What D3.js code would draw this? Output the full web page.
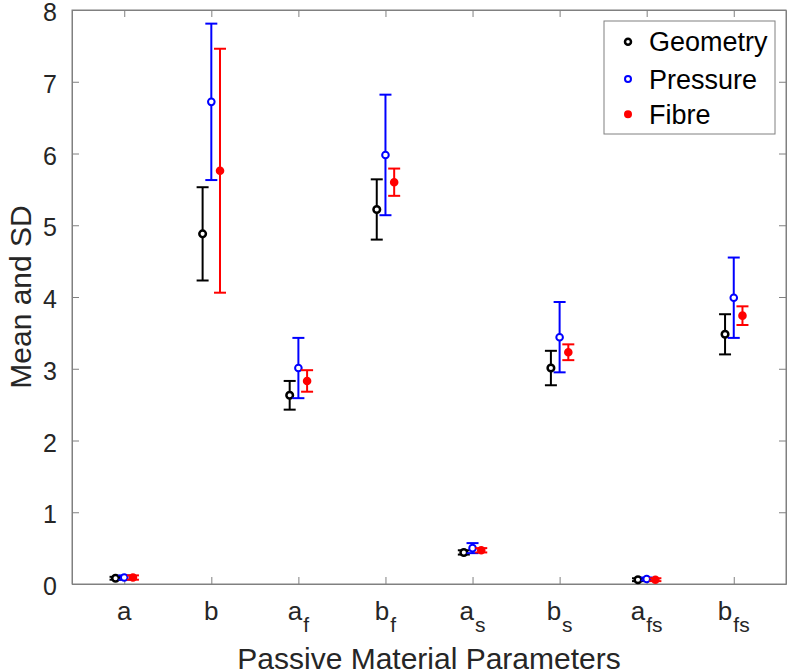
<!DOCTYPE html>
<html><head><meta charset="utf-8">
<script src="https://cdn.jsdelivr.net/npm/d3@7"></script>
<style>body{margin:0;background:#fff;} text{font-family:"Liberation Sans",Arial,sans-serif;}</style>
</head><body><svg id="c" width="788" height="671"></svg>
<script>
const categories = [["a",""],["b",""],["a","f"],["b","f"],["a","s"],["b","s"],["a","fs"],["b","fs"]];
const seriesNames = ["Geometry","Pressure","Fibre"];
const geometryMean = [0.08, 4.88, 2.63, 5.22, 0.44, 3.01, 0.06, 3.48];
const geometrySD   = [0.02, 0.65, 0.20, 0.42, 0.03, 0.24, 0.02, 0.28];
const pressureMean = [0.09, 6.72, 3.01, 5.98, 0.50, 3.44, 0.07, 3.99];
const pressureSD   = [0.03, 1.09, 0.42, 0.84, 0.07, 0.49, 0.02, 0.56];
const fibreMean    = [0.09, 5.76, 2.83, 5.60, 0.47, 3.23, 0.06, 3.74];
const fibreSD      = [0.03, 1.70, 0.15, 0.19, 0.03, 0.11, 0.02, 0.13];
const yTicks = [0,1,2,3,4,5,6,7,8];
const colors = ["#000000","#0000ff","#ff0000"];

const svg = d3.select("#c");
const L=72, R=786, T=10, B=584;
const x = d3.scaleLinear().domain([0.4, 8.6]).range([L, R]);
const y = d3.scaleLinear().domain([0, 8]).range([B, T]);
const axisCol = "#808080", textCol = "#262626";

// box
svg.append("rect").attr("x",L).attr("y",T).attr("width",R-L).attr("height",B-T)
  .attr("fill","none").attr("stroke",axisCol).attr("stroke-width",1);

const idx = d3.range(1, 9);
const gx = svg.append("g").attr("transform",`translate(0,${B})`)
  .call(d3.axisBottom(x).tickValues(idx).tickSizeInner(-7).tickSizeOuter(0).tickFormat(""));
const gxt = svg.append("g").attr("transform",`translate(0,${T})`)
  .call(d3.axisTop(x).tickValues(idx).tickSizeInner(-7).tickSizeOuter(0).tickFormat(""));
const gy = svg.append("g").attr("transform",`translate(${L},0)`)
  .call(d3.axisLeft(y).tickValues(yTicks).tickSizeInner(-7).tickSizeOuter(0).tickPadding(15).tickFormat(d3.format("d")));
const gyr = svg.append("g").attr("transform",`translate(${R},0)`)
  .call(d3.axisRight(y).tickValues(yTicks).tickSizeInner(-7).tickSizeOuter(0).tickFormat(""));
[gx,gxt,gy,gyr].forEach(g=>{
  g.select(".domain").attr("stroke",axisCol);
  g.selectAll(".tick line").attr("stroke",axisCol);
});
gy.selectAll(".tick text").attr("font-size",25).attr("fill",textCol).attr("dy","0.42em")
  .attr("font-family","Liberation Sans, Arial, sans-serif");

// x labels with subscripts
const xl = svg.append("g");
categories.forEach((c,i)=>{
  const t = xl.append("text").attr("x", x(i+1)).attr("y", 620)
    .attr("text-anchor","middle").attr("font-size",26).attr("fill",textCol);
  t.append("tspan").text(c[0]);
  if (c[1]) t.append("tspan").attr("font-size",21).attr("dx",1).attr("dy",12).text(c[1]);
});

svg.append("text").attr("x",(L+R)/2).attr("y",669).attr("text-anchor","middle")
  .attr("font-size",30).attr("fill",textCol).text("Passive Material Parameters");
svg.append("text").attr("transform",`translate(31,${(T+B)/2}) rotate(-90)`).attr("text-anchor","middle")
  .attr("font-size",30).attr("fill",textCol).text("Mean and SD");

// series
const series = [
  {name:seriesNames[0], mean:geometryMean, sd:geometrySD, off:-0.1},
  {name:seriesNames[1], mean:pressureMean, sd:pressureSD, off:0},
  {name:seriesNames[2], mean:fibreMean, sd:fibreSD, off:0.1},
];
const cap = 6;
series.forEach((s,si)=>{
  const g = svg.append("g");
  const col = colors[si];
  const data = s.mean.map((m,i)=>({i:i+1, m, sd:s.sd[i]}));
  g.selectAll("line.v").data(data).join("line")
    .attr("x1",d=>x(d.i+s.off)).attr("x2",d=>x(d.i+s.off))
    .attr("y1",d=>y(d.m-d.sd)).attr("y2",d=>y(d.m+d.sd))
    .attr("stroke",col).attr("stroke-width",2);
  ["lo","hi"].forEach(k=>{
    g.selectAll("line."+k).data(data).join("line")
      .attr("x1",d=>x(d.i+s.off)-cap).attr("x2",d=>x(d.i+s.off)+cap)
      .attr("y1",d=>y(k==="lo"?d.m-d.sd:d.m+d.sd)).attr("y2",d=>y(k==="lo"?d.m-d.sd:d.m+d.sd))
      .attr("stroke",col).attr("stroke-width",2);
  });
  g.selectAll("circle").data(data).join("circle")
    .attr("cx",d=>x(d.i+s.off)).attr("cy",d=>y(d.m))
    .attr("r", 3.3).attr("fill", si===2?col:"#fff")
    .attr("stroke",col).attr("stroke-width", si===0?2.5:2);
});

// legend
const lg = svg.append("g");
lg.append("rect").attr("x",604).attr("y",21).attr("width",171).attr("height",113)
  .attr("fill","#fff").attr("stroke",axisCol).attr("stroke-width",1);
const ly = [41.7, 79, 114.3];
series.forEach((s,si)=>{
  const yy = ly[si];
  lg.append("circle").attr("cx",628).attr("cy",yy).attr("r",3)
    .attr("fill", si===2?colors[si]:"#fff").attr("stroke",colors[si]).attr("stroke-width",si===0?2.5:2);
  lg.append("text").attr("x",649).attr("y",yy+9.7).attr("font-size",27).attr("fill","#000").text(s.name);
});
</script></body></html>
